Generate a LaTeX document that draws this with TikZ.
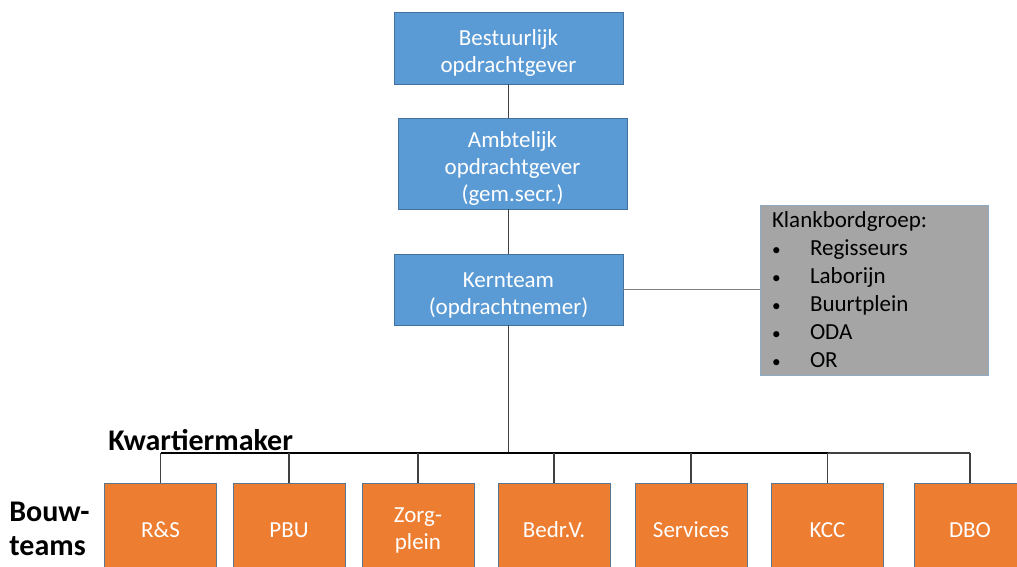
\documentclass[tikz,border=0pt]{standalone}
\usepackage{fontspec}
\setmainfont{Carlito}
\usetikzlibrary{positioning}

\definecolor{blokblauw}{HTML}{5B9BD5}
\definecolor{randblauw}{HTML}{41719C}
\definecolor{teamoranje}{HTML}{ED7D31}
\definecolor{panelgrijs}{HTML}{A5A5A5}
\definecolor{lijnkleur}{HTML}{404040}

\newcommand{\opsom}{\makebox[19pt][l]{\raisebox{0.3pt}{\scalebox{0.75}{\textbullet}}}}
\newcommand{\kopruimte}{\rule{0pt}{13pt}}

\begin{document}
\begin{tikzpicture}[x=0.5pt, y=-0.5pt,
    blok/.style={draw=randblauw, fill=blokblauw, text=white, align=center,
      minimum width=114.5pt, inner xsep=2pt, inner ysep=0.5pt,
      font=\fontsize{11.5}{13.5}\selectfont},
    team/.style={draw=randblauw!60!gray, fill=teamoranje, text=white, align=center,
      minimum width=56pt, minimum height=47pt, inner sep=2pt,
      font=\fontsize{11.5}{13.5}\selectfont},
    lijn/.style={draw=lijnkleur, line width=0.75pt},
    kop/.style={font=\bfseries\fontsize{15}{17}\selectfont, inner sep=0pt}]
    \useasboundingbox (0,0) rectangle (1017,567);
    \clip (0,0) rectangle (1017,567);

    \node[blok, minimum height=36pt] (bestuur) at (508.5,48)
      {\kopruimte Bestuurlijk\\opdrachtgever};
    \node[blok, minimum height=45.5pt] (ambt) at (512.5,163.5)
      {\kopruimte Ambtelijk\\opdrachtgever\\(gem.secr.)};
    \node[blok, minimum height=35.5pt] (kern) at (508.5,289.5)
      {\kopruimte Kernteam\\(opdrachtnemer)};
    \node[draw=randblauw!60, fill=panelgrijs, minimum height=85pt, text width=102pt,
      align=left, inner xsep=6pt, inner ysep=2pt, font=\fontsize{11.5}{14}\selectfont]
      (klank) at (874,290)
      {Klankbordgroep:\\
       \opsom Regisseurs\\
       \opsom Laborijn\\
       \opsom Buurtplein\\
       \opsom ODA\\
       \opsom OR};

    \foreach \naam/\x/\tekst in {rs/160.5/R\&S, pbu/289/PBU, zorg/418/Zorg-\\plein,
        bedr/554/Bedr.V., serv/691/Services, kcc/827.5/KCC, dbo/970/DBO}
      \node[team] (\naam) at (\x,530) {\tekst};

    \node[kop, anchor=west] (kwartier) at (108,440) {Kwartiermaker};
    \node[kop, anchor=west, align=left] (bouw) at (9,529) {Bouw-\\teams};

    \coordinate (bus) at (509,453);
    \draw[lijn] (bestuur.south) -- (bestuur.south |- ambt.north);
    \draw[lijn] (kern.north |- ambt.south) -- (kern.north);
    \draw[lijn] (kern.south) -- (kern.south |- bus);
    \draw[lijn, draw=gray] (kern.east) -- (kern.east -| klank.west);
    \draw[line width=1.2pt] (rs.north |- bus) -- (kcc.north |- bus);
    \draw[lijn] (kcc.north |- bus) -- (dbo.north |- bus);
    \foreach \naam in {rs,pbu,zorg,bedr,serv,kcc,dbo}
      \draw[lijn] (\naam.north) -- (\naam.north |- bus);
\end{tikzpicture}
\end{document}
